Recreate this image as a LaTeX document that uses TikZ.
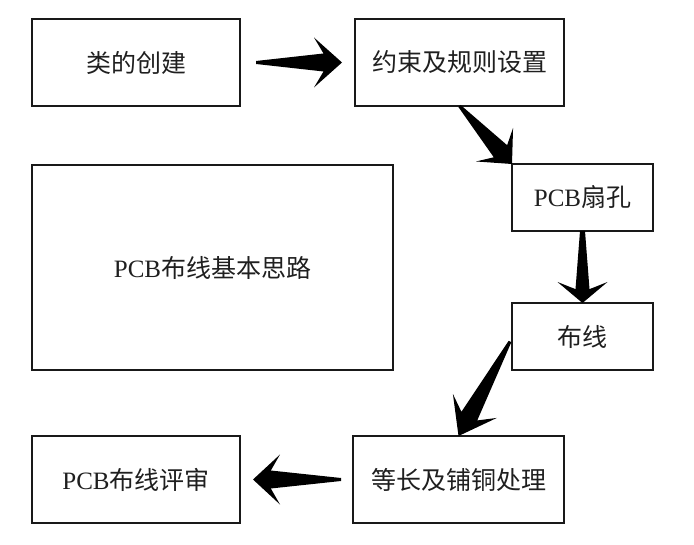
\documentclass[tikz,border=0pt]{standalone}
\usepackage{fontspec}
\setmainfont{Liberation Serif}
\newfontfamily\cjkf{Noto Sans CJK SC}
\usetikzlibrary{calc}
\tikzset{
  box/.style={draw=black!90, line width=2.4pt, inner sep=0pt, outer sep=0pt,
    font=\fontsize{25}{30}\selectfont, text=black!88},
  fatfill/.style={fill=black},
}
% #1 tail, #2 tip, #3 tip-to-barb distance, #4 shaft half-width near head, #5 tail half-width
\newcommand\fatarrow[5]{%
  \fill[fatfill] let \p1=(#1), \p2=(#2),
    \n1={veclen(\x2-\x1,\y2-\y1)}, \n2={atan2(\y2-\y1,\x2-\x1)} in
    ($(\p1)+(\n2+90:{(#5)*1pt})$)
    -- ($(\p1)+(\n2:{(\n1-0.66*#3)*1pt})+(\n2+90:{(#4)*1pt})$)
    -- ($(\p1)+(\n2:{(\n1-#3)*1pt})+(\n2+90:25pt)$)
    -- (\p2)
    -- ($(\p1)+(\n2:{(\n1-#3)*1pt})+(\n2+90:-25pt)$)
    -- ($(\p1)+(\n2:{(\n1-0.66*#3)*1pt})+(\n2+90:{(-#4)*1pt})$)
    -- ($(\p1)+(\n2+90:{(-#5)*1pt})$) -- cycle;
}
\begin{document}
\begin{tikzpicture}[x=1pt,y=-1pt]
\useasboundingbox (0,0) rectangle (694,545);
\node[box, minimum width=208pt, minimum height=87pt] (b1) at (136,62.5) {\cjkf 类的创建};
\node[box, minimum width=209pt, minimum height=87pt] (b2) at (459.5,62.5) {\cjkf 约束及规则设置};
\node[box, minimum width=141pt, minimum height=67pt] (b3) at (582.5,197.5) {PCB\cjkf 扇孔};
\node[box, minimum width=361pt, minimum height=205pt] (big) at (212.5,267.5) {PCB\cjkf 布线基本思路};
\node[box, minimum width=141pt, minimum height=67pt] (b4) at (582.5,336.5) {\cjkf 布线};
\node[box, minimum width=211pt, minimum height=87pt] (b6) at (458.5,479.5) {\cjkf 等长及铺铜处理};
\node[box, minimum width=208pt, minimum height=87pt] (b7) at (136,479.5) {PCB\cjkf 布线评审};

\coordinate (a1s) at ($(b1.east)+(16,0)$);
\coordinate (a1e) at ($(b2.west)+(-13,0)$);
\coordinate (a4s) at ($(b4.west)+(-2,5)$);
\coordinate (a5s) at ($(b6.west)+(-12,0)$);
\coordinate (a5e) at ($(b7.east)+(13,0)$);

\fatarrow{a1s}{a1e}{28}{9}{1.5}
\fatarrow{b2.south}{b3.north west}{26}{9}{1.5}
\fatarrow{b3.south}{b4.north}{21}{7}{2.5}
\fatarrow{a4s}{b6.north}{34}{9}{1.5}
\fatarrow{a5s}{a5e}{27}{9}{1.5}
\end{tikzpicture}
\end{document}
